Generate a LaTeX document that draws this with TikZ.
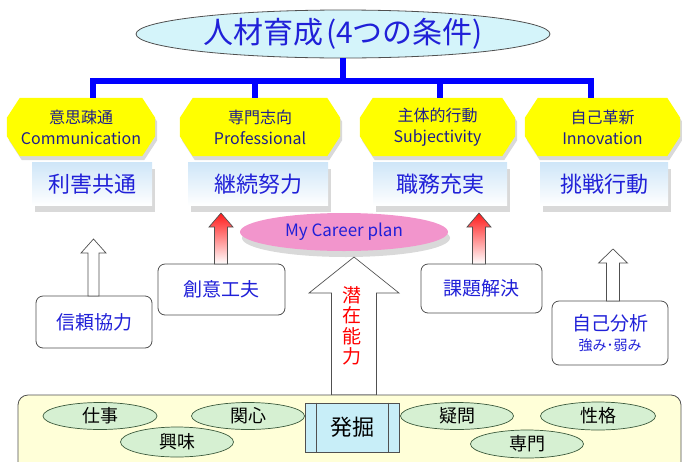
\documentclass[tikz,border=0pt]{standalone}
\usepackage{fontspec}
\setmainfont{Noto Sans CJK JP}
\usetikzlibrary{shapes.geometric,shadows,calc,backgrounds}
\definecolor{titlefill}{HTML}{D4F4FA}
\definecolor{treeblue}{HTML}{0000FF}
\definecolor{navy}{HTML}{1E1E8C}
\definecolor{textblue}{HTML}{2020D8}
\definecolor{octyellow}{HTML}{FFFF00}
\definecolor{pinkfill}{HTML}{F295CC}
\definecolor{panelfill}{HTML}{FFFFD8}
\definecolor{greenfill}{HTML}{D6F0D2}
\definecolor{greenedge}{HTML}{3C5A3C}
\definecolor{bluebox}{HTML}{C8EEF8}
\definecolor{edgegray}{HTML}{505050}
\definecolor{boxtop}{HTML}{CFE6F8}
\definecolor{arrred}{HTML}{FF1A1A}
\newcommand{\octagonfill}[1]{%
  \fill[octyellow, drop shadow={opacity=0.3, shadow xshift=2pt, shadow yshift=-4pt}]
  ($(#1.north west)+(13,0)$) -- ($(#1.north east)+(-13,0)$) -- ($(#1.north east)+(0,20)$)
  -- ($(#1.south east)+(0,-20)$) -- ($(#1.south east)+(-13,0)$) -- ($(#1.south west)+(13,0)$)
  -- ($(#1.south west)+(0,-20)$) -- ($(#1.north west)+(0,20)$) -- cycle;}
\newcommand{\uparr}[7]{%
  \path[#1] ({#2-#6},#3) -- ({#2-#6},#5) -- ({#2-#7},#5) -- (#2,#4) -- ({#2+#7},#5)
  -- ({#2+#6},#5) -- ({#2+#6},#3) -- cycle;}
\begin{document}
\begin{tikzpicture}[x=1pt,y=-1pt,
  titleell/.style={ellipse, draw=edgegray, line width=0.8pt, fill=titlefill, minimum width=414pt, minimum height=48pt, inner sep=0pt, text=textblue, font=\fontsize{30}{34}\selectfont},
  tree/.style={draw=treeblue, line width=6pt},
  octtext/.style={rectangle, minimum height=58pt, inner sep=0pt, align=center, text=navy, font=\fontsize{16}{21}\selectfont},
  wbox/.style={rectangle, minimum height=43pt, inner sep=0pt, top color=boxtop, bottom color=white, drop shadow={opacity=0.3, shadow xshift=3pt, shadow yshift=-6pt}, text=textblue, font=\fontsize{22}{26}\selectfont},
  rbox/.style={rectangle, draw=edgegray, line width=0.8pt, rounded corners=7pt, fill=white, inner sep=0pt, align=center, text=textblue, font=\fontsize{19}{23}\selectfont},
  pinkell/.style={ellipse, fill=pinkfill, minimum width=208pt, minimum height=38pt, inner sep=0pt, drop shadow={opacity=0.3, shadow xshift=2pt, shadow yshift=-6pt}, text=textblue, font=\fontsize{17}{20}\selectfont},
  whitearr/.style={draw=edgegray, line width=0.7pt, fill=white},
  redarr/.style={draw=edgegray, line width=0.7pt, top color=arrred, bottom color=white},
  gell/.style={ellipse, draw=greenedge, line width=0.7pt, fill=greenfill, inner sep=0pt, font=\fontsize{18}{20}\selectfont},
]
\useasboundingbox (0,0) rectangle (682,461);

% title and tree
\node[titleell] (t) at (343,34) {人材育成\hspace{3pt}(4つの条件)};
\coordinate (barL) at (93,81);
\coordinate (barR) at (591,81);
\coordinate (barM2) at (255,81);
\coordinate (barM3) at (440,81);

% octagons
\node[octtext, minimum width=148pt] (o1) at (81,127) {意思疎通\\Communication};
\node[octtext, minimum width=160pt] (o2) at (260,127) {専門志向\\Professional};
\node[octtext, minimum width=155pt] (o3) at (437.5,127) {主体的行動\\Subjectivity};
\node[octtext, minimum width=155pt] (o4) at (602.5,127) {自己革新\\Innovation};
\begin{scope}[on background layer]
\octagonfill{o1}
\octagonfill{o2}
\octagonfill{o3}
\octagonfill{o4}
\end{scope}

\draw[tree] (t.south) -- (t.south |- barL);
\draw[tree] (barL |- o1.north) -- (barL) -- (barR) -- (barR |- o4.north);
\draw[tree] (barM2) -- (barM2 |- o2.north);
\draw[tree] (barM3) -- (barM3 |- o3.north);

% white boxes
\node[wbox, minimum width=120pt] (w1) at (92,184) {利害共通};
\node[wbox, minimum width=140pt] (w2) at (258,184) {継続努力};
\node[wbox, minimum width=134pt] (w3) at (440,184) {職務充実};
\node[wbox, minimum width=128pt] (w4) at (604,184) {挑戦行動};

% rounded boxes
\node[rbox, minimum width=116pt, minimum height=52pt] (b1) at (94,322) {信頼協力};
\node[rbox, minimum width=127pt, minimum height=51pt] (b2) at (221.5,289.5) {創意工夫};
\node[rbox, minimum width=121pt, minimum height=49pt] (b3) at (481.5,288.5) {課題解決};
\node[rbox, minimum width=116pt, minimum height=64pt] (b4) at (610,333) {自己分析\\[-3pt]{\fontsize{14}{16}\selectfont 強み･弱み}};

% block arrows
\uparr{whitearr}{93.5}{296}{239}{253}{5.5}{12.5}
\uparr{redarr}{221}{264}{213}{227}{6.5}{12}
\uparr{redarr}{479}{264}{213}{227}{6.5}{12}
\uparr{whitearr}{613}{301}{249}{263}{6.5}{14.5}

% big arrow
\uparr{whitearr}{354}{395}{257}{293}{22.5}{45}
\node[text=red, align=center, inner sep=0pt, font=\fontsize{19}{20.5}\selectfont] (pot) at (352,326) {潜\\在\\能\\力};

% career plan
\node[pinkell] (cp) at (344,232) {My Career plan};

% bottom panel
\filldraw[fill=panelfill, draw=edgegray, line width=0.8pt, rounded corners=10pt]
  (18,470) -- (18,395) -- (681,395) -- (681,470);
\node[rectangle, draw=edgegray, line width=0.8pt, fill=bluebox, minimum width=94pt, minimum height=49pt, inner sep=0pt, font=\fontsize{22}{24}\selectfont] (k) at (352,427.5) {発掘};
\draw[edgegray, line width=0.8pt] ($(k.north west)+(12,0)$) -- ($(k.south west)+(12,0)$);
\draw[edgegray, line width=0.8pt] ($(k.north east)+(-11,0)$) -- ($(k.south east)+(-11,0)$);

\node[gell, minimum width=114pt, minimum height=27pt] (g1) at (100,416) {仕事};
\node[gell, minimum width=113pt, minimum height=27pt] (g3) at (248,416) {関心};
\node[gell, minimum width=113pt, minimum height=30pt] (g2) at (177,442) {興味};
\node[gell, minimum width=113pt, minimum height=27pt] (g4) at (457,416) {疑問};
\node[gell, minimum width=115pt, minimum height=28pt] (g6) at (598,416) {性格};
\node[gell, minimum width=113pt, minimum height=28pt] (g5) at (527,444) {専門};
\end{tikzpicture}
\end{document}
